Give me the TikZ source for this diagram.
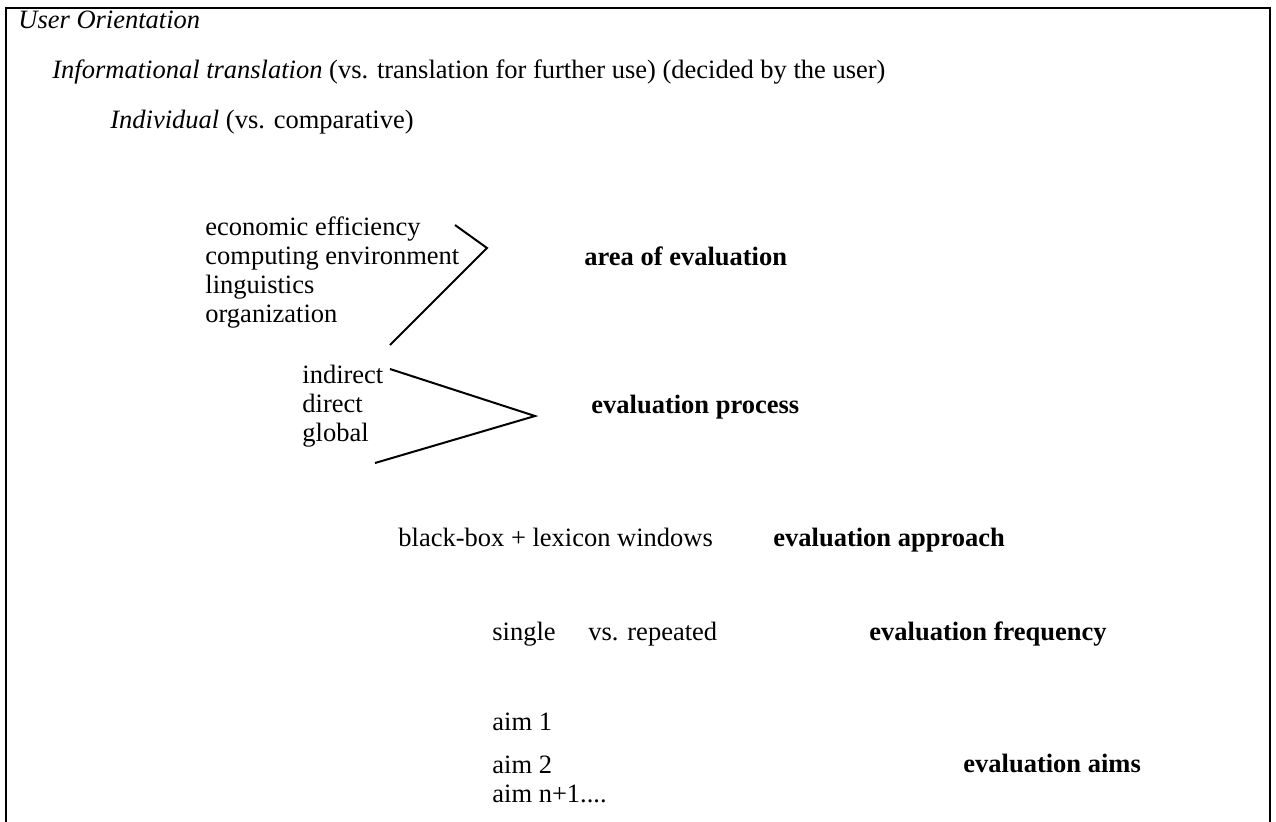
\documentclass[tikz,border=0pt]{standalone}
\usepackage{fontspec}
\setmainfont{Liberation Serif}
\begin{document}
\begin{tikzpicture}[x=0.5pt,y=-0.5pt,
  txt/.style={anchor=base west,inner sep=0pt,font=\fontsize{13.25}{14.5}\selectfont},
  lbl/.style={anchor=base west,inner sep=0pt,font=\fontsize{13.25}{14.5}\selectfont\bfseries},
  frame/.style={line width=1.2pt},
  brk/.style={line width=1pt,line join=miter}]
\useasboundingbox (0,0) rectangle (1276,821);
% frame (open at the bottom)
\coordinate (fbl) at (6,822);
\coordinate (ftl) at (6,8);
\coordinate (ftr) at (1270,8);
\coordinate (fbr) at (1270,822);
\draw[frame] (fbl) -- (ftl) -- (ftr) -- (fbr);

% header lines
\node[txt] (uo) at (18,28) {\itshape User Orientation};
\node[txt] (it) at (52,78) {\textit{Informational translation} (vs. translation for further use) (decided by the user)};
\node[txt] (ind) at (110,128) {\textit{Individual} (vs. comparative)};

% area of evaluation
\node[txt] (a1) at (205,235) {economic efficiency};
\node[txt] (a2) at (205,264) {computing environment};
\node[txt] (a3) at (205,293) {linguistics};
\node[txt] (a4) at (205,322) {organization};
\node[lbl] (area) at (584,265) {area of evaluation};
\coordinate (b1t) at (455,225);
\coordinate (b1v) at (487,248);
\coordinate (b1b) at (390,345);
\draw[brk] (b1t) -- (b1v) -- (b1b);

% evaluation process
\node[txt] (p1) at (302,383) {indirect};
\node[txt] (p2) at (302,412) {direct};
\node[txt] (p3) at (302,441) {global};
\node[lbl] (proc) at (591,413) {evaluation process};
\coordinate (b2t) at (390,369);
\coordinate (b2v) at (535,416);
\coordinate (b2b) at (375,463);
\draw[brk] (b2t) -- (b2v) -- (b2b);

% evaluation approach
\node[txt] (bb) at (398,546) {black-box + lexicon windows};
\node[lbl] (appr) at (773,546) {evaluation approach};

% evaluation frequency
\node[txt] (sg) at (492,640) {single};
\node[txt] (rp) at (588,640) {vs. repeated};
\node[lbl] (freq) at (869,640) {evaluation frequency};

% evaluation aims
\node[txt] (m1) at (492,730) {aim 1};
\node[txt] (m2) at (492,773) {aim 2};
\node[txt] (m3) at (492,802) {aim n+1....};
\node[lbl] (aims) at (963,772) {evaluation aims};
\end{tikzpicture}
\end{document}
